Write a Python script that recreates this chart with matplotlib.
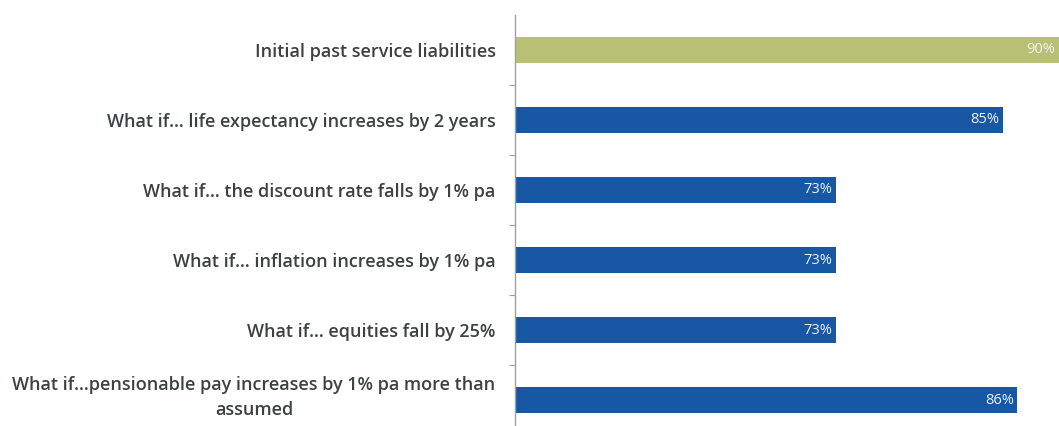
import matplotlib
matplotlib.use("Agg")
import matplotlib.pyplot as plt
import matplotlib.transforms as mtransforms
import numpy as np

categories = [
    "Initial past service liabilities",
    "What if... life expectancy increases by 2 years",
    "What if... the discount rate falls by 1% pa",
    "What if... inflation increases by 1% pa",
    "What if... equities fall by 25%",
    "What if...pensionable pay increases by 1% pa more than\nassumed",
]
values = [90, 85, 73, 73, 73, 86]
value_labels = ["90%", "85%", "73%", "73%", "73%", "86%"]
colors = ["#B8C173", "#1757A3", "#1757A3", "#1757A3", "#1757A3", "#1757A3"]

plt.rcParams["font.family"] = ["Open Sans", "DejaVu Sans"]

fig = plt.figure(figsize=(10.59, 4.26), dpi=100)
ax = fig.add_axes([0.4863, 0.0, 0.5137, 0.965])

y = np.arange(len(categories))
ax.barh(y, values, height=0.37, color=colors, left=0)

x_min, x_max = 50, 89
ax.set_xlim(x_min, x_max)
ax.set_ylim(5.37, -0.5)

for yi, v, lab in zip(y, values, value_labels):
    xt = min(v, x_max) - 0.25
    ax.text(xt, yi, lab, ha="right", va="center", fontsize=10.5,
            color="#EEF2F7")

ax.set_yticks(y)
ax.set_yticklabels(categories, fontsize=13, color="#3C4142", fontweight="semibold")
for t in ax.get_yticklabels():
    t.set_multialignment("center")
    t.set_linespacing(1.55)
ax.tick_params(axis="y", which="major", length=0, pad=14)
ax.set_yticks(y[:-1] + 0.5, minor=True)
ax.tick_params(axis="y", which="minor", length=4, color="#A0A0A0", width=0.8)

# nudge the two-line label up a little so it sits like the original
shift = mtransforms.ScaledTranslation(0, 6 / 72, fig.dpi_scale_trans)
last = ax.get_yticklabels()[-1]
last.set_transform(last.get_transform() + shift)

ax.set_xticks([])
for side in ["top", "right", "bottom"]:
    ax.spines[side].set_visible(False)
ax.spines["left"].set_color("#A0A0A0")
ax.spines["left"].set_linewidth(1.0)

fig.savefig("out.png", dpi=100, facecolor="white")
